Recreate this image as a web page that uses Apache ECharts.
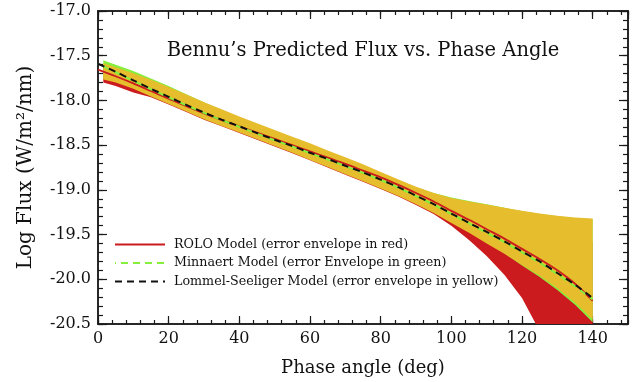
<!DOCTYPE html>
<html>
<head>
<meta charset="utf-8">
<script src="https://cdn.jsdelivr.net/npm/echarts@6/dist/echarts.min.js"></script>
<style>
html,body{margin:0;padding:0;background:#fff;}
#chart{width:632px;height:382px;}
</style>
</head>
<body>
<div id="chart"></div>
<script>
// ---- Data ----
const titleText = 'Bennu\u2019s Predicted Flux vs. Phase Angle';
const xName = 'Phase angle (deg)';
const yName = 'Log Flux (W/m\u00B2/nm)';
const xTicks = [0, 20, 40, 60, 80, 100, 120, 140];
const yTicks = [-20.5, -20.0, -19.5, -19.0, -18.5, -18.0, -17.5, -17.0];

const legendNames = [
  'ROLO Model (error envelope in red)',
  'Minnaert Model (error Envelope in green)',
  'Lommel-Seeliger Model (error envelope in yellow)'
];

// model curves
const phase = [0,5,10,15,20,25,30,35,40,45,50,55,60,65,70,75,80,85,90,95,100,105,110,115,120,125,130,135,140];
const roloModel = [-17.655,-17.73,-17.81,-17.895,-17.98,-18.065,-18.145,-18.22,-18.29,-18.36,-18.43,-18.50,-18.57,-18.64,-18.71,-18.785,-18.86,-18.945,-19.035,-19.13,-19.235,-19.335,-19.44,-19.545,-19.66,-19.775,-19.90,-20.05,-20.24];
const minnaertModel = [-17.59,-17.685,-17.78,-17.875,-17.965,-18.055,-18.14,-18.22,-18.295,-18.37,-18.445,-18.515,-18.59,-18.66,-18.735,-18.81,-18.89,-18.975,-19.07,-19.165,-19.27,-19.375,-19.48,-19.585,-19.70,-19.815,-19.945,-20.08,-20.225];
const lsModel = [-17.59,-17.68,-17.775,-17.87,-17.96,-18.05,-18.135,-18.215,-18.29,-18.365,-18.44,-18.51,-18.585,-18.655,-18.73,-18.805,-18.885,-18.97,-19.065,-19.16,-19.265,-19.37,-19.47,-19.575,-19.69,-19.80,-19.93,-20.06,-20.21];

// error envelopes
const envPhase = [1.5,5,10,15,20,25,30,35,40,45,50,55,60,65,70,75,80,85,90,95,100,105,110,115,120,125,130,135,140];
const roloUpper = [-17.61,-17.655,-17.72,-17.795,-17.875,-17.955,-18.04,-18.12,-18.195,-18.27,-18.345,-18.42,-18.495,-18.57,-18.645,-18.725,-18.805,-18.89,-18.97,-19.04,-19.10,-19.15,-19.20,-19.25,-19.31,-19.37,-19.43,-19.50,-19.58];
const roloLower = [-17.80,-17.84,-17.91,-17.965,-18.045,-18.13,-18.215,-18.29,-18.365,-18.44,-18.515,-18.59,-18.67,-18.75,-18.83,-18.91,-18.99,-19.075,-19.17,-19.27,-19.40,-19.56,-19.74,-19.95,-20.21,-20.58,-20.98,-21.42,-21.90];
const mnUpper = [-17.55,-17.60,-17.67,-17.755,-17.84,-17.93,-18.02,-18.11,-18.19,-18.265,-18.34,-18.415,-18.49,-18.57,-18.645,-18.725,-18.81,-18.895,-18.97,-19.035,-19.085,-19.125,-19.16,-19.20,-19.24,-19.27,-19.295,-19.315,-19.33];
const mnLower = [-17.755,-17.79,-17.86,-17.945,-18.03,-18.115,-18.20,-18.275,-18.35,-18.425,-18.50,-18.575,-18.655,-18.735,-18.815,-18.895,-18.975,-19.06,-19.15,-19.25,-19.36,-19.47,-19.59,-19.71,-19.845,-19.975,-20.12,-20.285,-20.48];
const lsUpper = [-17.585,-17.63,-17.695,-17.77,-17.85,-17.935,-18.02,-18.10,-18.18,-18.255,-18.33,-18.405,-18.48,-18.56,-18.635,-18.715,-18.80,-18.885,-18.965,-19.035,-19.09,-19.13,-19.165,-19.20,-19.235,-19.265,-19.29,-19.31,-19.32];
const lsLower = [-17.765,-17.80,-17.87,-17.955,-18.04,-18.125,-18.21,-18.285,-18.36,-18.435,-18.51,-18.585,-18.665,-18.745,-18.825,-18.905,-18.985,-19.07,-19.16,-19.26,-19.37,-19.48,-19.60,-19.715,-19.84,-19.96,-20.10,-20.26,-20.45];

// ---- Styling ----
const FONT = 'DejaVu Serif';
const AX = '#1a1a1a';
const RED = '#cc1b1e';
const GREEN = '#86ee3c';
const YELLOW = '#e6bd2c';
const CLEAR = 'rgba(0,0,0,0)';

const chart = echarts.init(document.getElementById('chart'), null, {renderer: 'canvas'});

function pairs(xs, ys) { return xs.map((x, i) => [x, ys[i]]); }

function band(name, xs, up, lo, color, z) {
  return {
    type: 'custom', name: name, clip: true, silent: true, z: z,
    xAxisIndex: 0, yAxisIndex: 0,
    data: xs.map((x, i) => [x, up[i], lo[i]]),
    encode: {x: 0, y: [1, 2]},
    renderItem: function (params, api) {
      if (params.dataIndex !== 0) return null;
      const pts = [];
      for (let i = 0; i < xs.length; i++) pts.push(api.coord([xs[i], up[i]]));
      for (let i = xs.length - 1; i >= 0; i--) pts.push(api.coord([xs[i], lo[i]]));
      return {type: 'polygon', shape: {points: pts, smooth: 0}, style: {fill: color, stroke: null}};
    }
  };
}

const xMin = xTicks[0], xMax = 150;
const yMin = yTicks[0], yMax = yTicks[yTicks.length - 1];

function xAxisDef(pos, interval, len, labels) {
  return {
    type: 'value', min: xMin, max: xMax, interval: interval, position: pos,
    axisLine: {show: true, onZero: false, lineStyle: {color: AX, width: 1.5}},
    axisTick: {show: true, inside: true, length: len, lineStyle: {color: AX, width: 1.2}},
    splitLine: {show: false},
    axisLabel: labels ? {show: true, showMaxLabel: false, margin: 7, color: '#111', fontFamily: FONT, fontSize: 16} : {show: false},
    name: labels ? xName : '', nameLocation: 'middle', nameGap: 35,
    nameTextStyle: {fontFamily: FONT, fontSize: 18, color: '#111'}
  };
}
function yAxisDef(pos, interval, len, labels) {
  return {
    type: 'value', min: yMin, max: yMax, interval: interval, position: pos,
    axisLine: {show: true, onZero: false, lineStyle: {color: AX, width: 1.5}},
    axisTick: {show: true, inside: true, length: len, lineStyle: {color: AX, width: 1.2}},
    splitLine: {show: false},
    axisLabel: labels ? {show: true, margin: 7, color: '#111', fontFamily: FONT, fontSize: 16,
      formatter: v => v.toFixed(1)} : {show: false},
    name: labels ? yName : '', nameLocation: 'middle', nameGap: 62,
    nameTextStyle: {fontFamily: FONT, fontSize: 20, color: '#111'}
  };
}

function lineSeries(name, ys, color, width, type, offset, z) {
  return {
    type: 'line', name: name, data: pairs(phase, ys), z: z,
    smooth: 0.3, symbol: 'none', clip: true,
    lineStyle: {color: color, width: width, type: type, dashOffset: offset},
    itemStyle: {color: CLEAR, borderColor: CLEAR, borderWidth: 0}
  };
}

const option = {
  backgroundColor: '#fff',
  animation: false,
  title: {
    text: titleText, left: 358, top: 36, textAlign: 'center',
    textStyle: {fontFamily: FONT, fontSize: 19.5, fontWeight: 'normal', color: '#111'}
  },
  grid: {left: 98, right: 4, top: 11, bottom: 56, containLabel: false},
  xAxis: [
    xAxisDef('bottom', 20, 8, true),
    xAxisDef('bottom', 4, 4, false),
    xAxisDef('top', 20, 8, false),
    xAxisDef('top', 4, 4, false)
  ],
  yAxis: [
    yAxisDef('left', 0.5, 9, true),
    yAxisDef('left', 0.1, 5, false),
    yAxisDef('right', 0.5, 9, false),
    yAxisDef('right', 0.1, 5, false)
  ],
  legend: {
    data: legendNames, orient: 'vertical', left: 114, top: 238, padding: 0,
    itemWidth: 50, itemHeight: 12, itemGap: 5.5,
    itemStyle: {color: CLEAR, borderColor: CLEAR, borderWidth: 0, opacity: 0},
    textStyle: {fontFamily: FONT, fontSize: 12.7, color: '#111', padding: [0, 0, 0, 4]},
    selectedMode: false
  },
  series: [
    band('roloEnvelope', envPhase, roloUpper, roloLower, RED, 1),
    band('minnaertEnvelope', envPhase, mnUpper, mnLower, GREEN, 2),
    band('lsEnvelope', envPhase, lsUpper, lsLower, YELLOW, 3),
    lineSeries(legendNames[0], roloModel, RED, 1.8, 'solid', 0, 4),
    lineSeries(legendNames[1], minnaertModel, GREEN, 2, [7, 5], 6, 5),
    lineSeries(legendNames[2], lsModel, '#111', 2, [7, 5], 0, 6)
  ]
};
chart.setOption(option);
</script>
</body>
</html>
